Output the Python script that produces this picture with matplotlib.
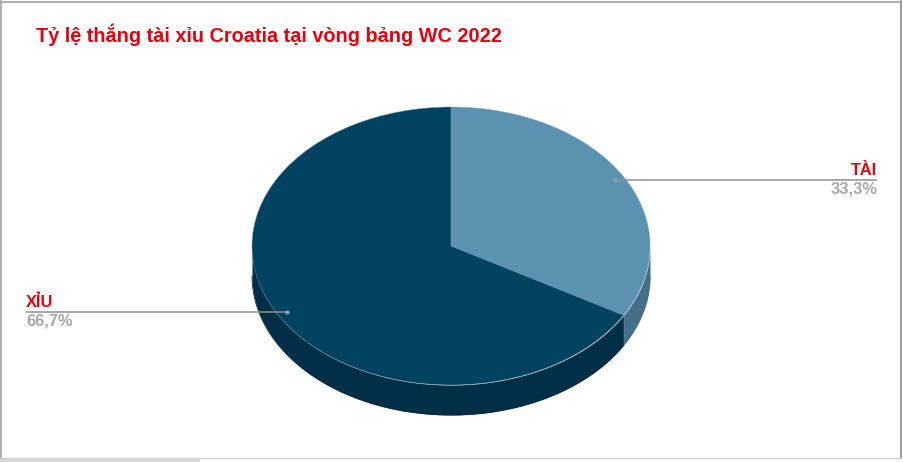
import numpy as np
import matplotlib
matplotlib.use("Agg")
import matplotlib.pyplot as plt
from matplotlib.patches import Rectangle
from matplotlib.lines import Line2D

title = "Tỷ lệ thắng tài xỉu Croatia tại vòng bảng WC 2022"
categories = ["TÀI", "XỈU"]
values = [33.3, 66.7]
top_colors = ["#5b92b0", "#00425f"]
side_colors = ["#456e87", "#002e46"]

W, H = 904, 462
CX, CY, RX, RY, DEPTH = 451, 246, 199, 139, 30
plt.rcParams["font.family"] = ["Liberation Sans", "DejaVu Sans"]

fig = plt.figure(figsize=(W / 100, H / 100), dpi=100, facecolor="white")
ax = fig.add_axes([0, 0, 1, 1])
d = DEPTH / RY

# Side wall, drawn under the pie top
total = sum(values)
start = 90.0
spans = []
for v in values:
    end = start - 360 * v / total
    spans.append((start, end))
    start = end
for (a0, a1), col in zip(spans, side_colors):
    lo, hi = sorted((a0, a1))
    found = []
    for shift in (-360, 0, 360):
        l, h = max(lo + shift, 180), min(hi + shift, 360)
        if h > l:
            found.append((l, h))
    for l, h in found:
        t = np.radians(np.linspace(l, h, 200))
        x = np.cos(t)
        y = np.sin(t)
        ax.fill_between(x, y, y - d, color=col, lw=0, zorder=1)
        ax.plot(x, y - d, color=col, lw=0.6, zorder=1)

wedges, _ = ax.pie(values, colors=top_colors, startangle=90, counterclock=False,
                   radius=1, wedgeprops=dict(edgecolor="#6f9ab3", linewidth=0.3, zorder=2))
for w in wedges:
    w.set_zorder(2)

# Wall seam under the wedge boundary
seam = np.radians(spans[0][1])
ax.plot([np.cos(seam)] * 2, [np.sin(seam), np.sin(seam) - d], color="#6f9ab3", lw=0.3, zorder=3)

ax.set_aspect("auto")
ax.set_xlim((0 - CX) / RX, (W - CX) / RX)
ax.set_ylim((CY - H) / RY, CY / RY)
ax.axis("off")

# Leader lines and labels
px = lambda X: (X - CX) / RX
sides = [877, 26]
aligns = ["right", "left"]
for (a0, a1), cat, v, sx, ha in zip(spans, categories, values, sides, aligns):
    mid = np.radians((a0 + a1) / 2)
    mx, my = 0.95 * np.cos(mid), 0.95 * np.sin(mid)
    ax.plot([mx, px(sx)], [my, my], color="#909090", lw=1.1, zorder=4, solid_capstyle="butt")
    ax.plot([mx], [my], "o", ms=3, color="#8ba3b3", mew=0, zorder=5)
    ax.annotate(cat, (px(sx), my), xytext=(0, 1.5), textcoords="offset points", ha=ha, va="bottom",
                color="#e8000d", fontsize=11.8, fontweight="bold", zorder=6)
    ax.annotate(f"{v:.1f}%".replace(".", ","), (px(sx), my), xytext=(0, -1), textcoords="offset points",
                ha=ha, va="top", color="#a6a6a6", fontsize=11.8, fontweight="bold", zorder=6)

fig.text(36 / W, 1 - 41.5 / H, title, color="#e8000d", fontsize=14.35, fontweight="bold", ha="left", va="baseline")

# Spreadsheet chart frame and scrollbar
for xs, ys, c, lw in [([1.5, 1.5], [1, 458], "#a0a0a0", 1.2), ([1, 901.5], [1.5, 1.5], "#a0a0a0", 1.2),
                      ([901.5, 901.5], [1, 458], "#8c8c8c", 1.2), ([1, 904], [458, 458], "#cfcfcf", 1)]:
    fig.add_artist(Line2D([x / W for x in xs], [1 - y / H for y in ys], color=c, lw=lw))
fig.add_artist(Rectangle((0, 0), 200 / W, 3 / H, transform=fig.transFigure, color="#d9d9dd", lw=0))

fig.savefig("out.png", dpi=100, facecolor="white")
